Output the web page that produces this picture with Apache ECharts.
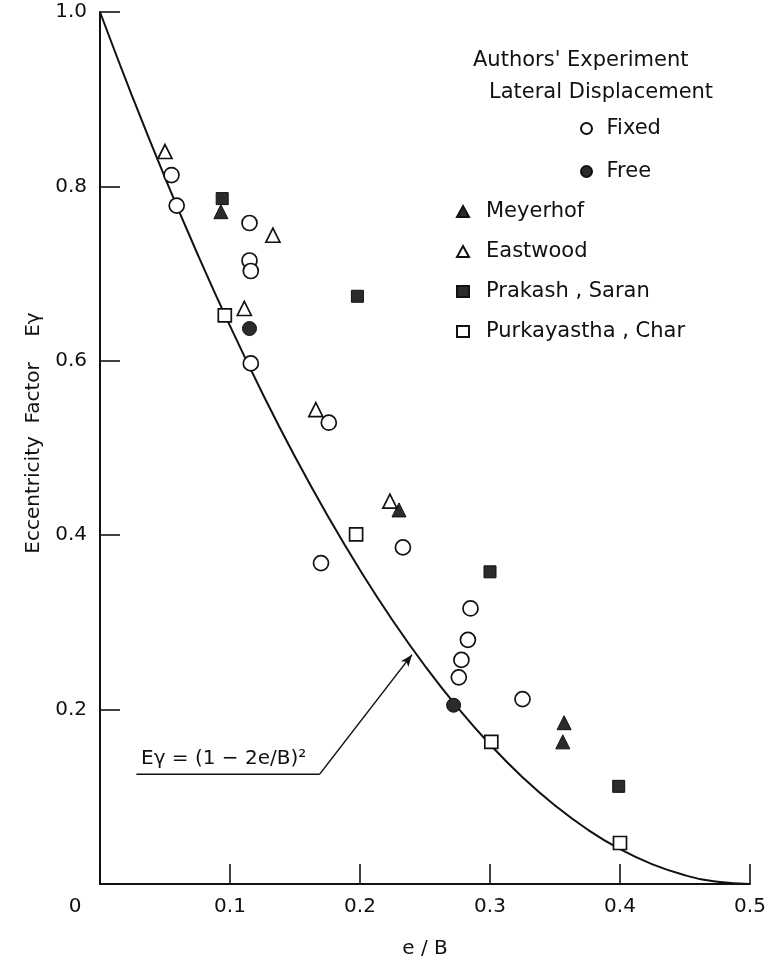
<!DOCTYPE html>
<html>
<head>
<meta charset="utf-8">
<script src="https://cdn.jsdelivr.net/npm/echarts@6/dist/echarts.min.js"></script>
<style>html,body{margin:0;padding:0;background:#fff;}#c{width:772px;height:964px;}</style>
</head>
<body>
<div id="c"></div>
<script>
// ---- data ----
const xTicks = ['0', '0.1', '0.2', '0.3', '0.4', '0.5'];
const yTicks = ['0.2', '0.4', '0.6', '0.8', '1.0'];

// theoretical curve Eγ=(1-2e/B)^2
const curveX = [0, 0.025, 0.05, 0.075, 0.1, 0.125, 0.15, 0.175, 0.2, 0.225, 0.25, 0.275, 0.3, 0.325, 0.35, 0.375, 0.4, 0.425, 0.45, 0.475, 0.5];
const curveY = [1.0, 0.9025, 0.81, 0.7225, 0.64, 0.5625, 0.49, 0.4225, 0.36, 0.3025, 0.25, 0.2025, 0.16, 0.1225, 0.09, 0.0625, 0.04, 0.0225, 0.01, 0.0025, 0];

const fixedPts = [[0.055, 0.813], [0.059, 0.778], [0.115, 0.758], [0.115, 0.715], [0.116, 0.703], [0.116, 0.597],
  [0.176, 0.529], [0.170, 0.368], [0.233, 0.386], [0.285, 0.316], [0.283, 0.280], [0.278, 0.257], [0.276, 0.237], [0.325, 0.212]];
const freePts = [[0.115, 0.637], [0.272, 0.205]];
const meyerhofPts = [[0.093, 0.771], [0.230, 0.429], [0.357, 0.185], [0.356, 0.163]];
const eastwoodPts = [[0.050, 0.840], [0.133, 0.744], [0.111, 0.660], [0.166, 0.544], [0.223, 0.439]];
const prakashPts = [[0.094, 0.786], [0.198, 0.674], [0.300, 0.358], [0.399, 0.112]];
const purkayasthaPts = [[0.096, 0.652], [0.197, 0.401], [0.301, 0.163], [0.400, 0.047]];

// formula annotation leader: underline start, underline end, arrow tip
const leaderPts = [[0.028, 0.126], [0.169, 0.126], [0.240, 0.263]];
const formulaText = 'Eγ = (1 − 2e/B)²';

const FONT = 'DejaVu Sans';
const BLACK = '#111';
const curveData = curveX.map((x, i) => [x, curveY[i]]);

const openStyle = { color: '#fff', borderColor: BLACK, borderWidth: 1.7, opacity: 1 };
const fillStyle = { color: '#2b2b2b', borderColor: BLACK, borderWidth: 1, opacity: 1 };

const chart = echarts.init(document.getElementById('c'), null, { renderer: 'canvas' });
chart.setOption({
  backgroundColor: '#fff',
  animation: false,
  textStyle: { fontFamily: FONT, color: BLACK },
  title: [
    { text: "Authors' Experiment", left: 473, top: 50, padding: 0,
      textStyle: { fontFamily: FONT, fontSize: 21, fontWeight: 'normal', color: BLACK } },
    { text: 'Lateral Displacement', left: 489, top: 82, padding: 0,
      textStyle: { fontFamily: FONT, fontSize: 21, fontWeight: 'normal', color: BLACK } }
  ],
  legend: [
    { data: ['Fixed', 'Free'], orient: 'vertical', left: 580, top: 118, padding: 0,
      itemWidth: 12, itemHeight: 11, itemGap: 22,
      textStyle: { fontFamily: FONT, fontSize: 21, color: BLACK, padding: [0, 0, 0, 9] } },
    { data: ['Meyerhof', 'Eastwood', 'Prakash , Saran', 'Purkayastha , Char'], orient: 'vertical', left: 456, top: 201, padding: 0,
      itemWidth: 12, itemHeight: 11, itemGap: 19,
      textStyle: { fontFamily: FONT, fontSize: 21, color: BLACK, padding: [0, 0, 0, 12] } }
  ],
  grid: { left: 100, right: 22, top: 12, bottom: 77, containLabel: false },
  xAxis: {
    type: 'value', min: 0, max: 0.5, interval: 0.1,
    name: 'e / B', nameLocation: 'middle', nameGap: 55,
    nameTextStyle: { fontFamily: FONT, fontSize: 20, color: BLACK },
    axisLine: { show: true, onZero: false, lineStyle: { color: BLACK, width: 2 } },
    axisTick: { show: true, inside: true, length: 20, lineStyle: { color: BLACK, width: 1.6 } },
    splitLine: { show: false },
    axisLabel: {
      margin: 13, fontFamily: FONT, fontSize: 20, color: BLACK,
      formatter: function (v) {
        const i = Math.round(v * 10);
        return i === 0 ? '{z|' + xTicks[0] + '}' : xTicks[i];
      },
      rich: { z: { fontFamily: FONT, fontSize: 20, color: BLACK, padding: [0, 50, 0, 0] } }
    }
  },
  yAxis: {
    type: 'value', min: 0, max: 1, interval: 0.2,
    name: 'Eccentricity  Factor    Eγ', nameLocation: 'middle', nameGap: 56,
    nameTextStyle: { fontFamily: FONT, fontSize: 20, color: BLACK, padding: [0, 0, 0, 30] },
    axisLine: { show: true, onZero: false, lineStyle: { color: BLACK, width: 2 } },
    axisTick: { show: true, inside: true, length: 20, lineStyle: { color: BLACK, width: 1.6 } },
    splitLine: { show: false },
    axisLabel: {
      margin: 13, fontFamily: FONT, fontSize: 20, color: BLACK,
      formatter: function (v) {
        const i = Math.round(v * 5);
        return i === 0 ? '' : yTicks[i - 1];
      }
    }
  },
  graphic: [
    { type: 'text', left: 141, top: 749, z: 10,
      style: { text: formulaText, font: '20px "DejaVu Sans"', fill: BLACK } }
  ],
  series: [
    { name: 'curve', type: 'line', data: curveData, smooth: true, showSymbol: false, symbol: 'none',
      lineStyle: { color: BLACK, width: 2 }, z: 2, silent: true },
    { name: 'leader', type: 'line', data: leaderPts.slice(0, 2), showSymbol: false, symbol: 'none',
      lineStyle: { color: BLACK, width: 1.5 }, z: 2, silent: true,
      markLine: { silent: true, symbol: ['none', 'arrow'], symbolSize: [7, 12],
        label: { show: false }, lineStyle: { color: BLACK, width: 1.5, type: 'solid' },
        data: [[{ coord: leaderPts[1] }, { coord: leaderPts[2] }]] } },
    { name: 'Fixed', type: 'scatter', data: fixedPts, symbol: 'circle', symbolSize: 15, itemStyle: openStyle, z: 5 },
    { name: 'Free', type: 'scatter', data: freePts, symbol: 'circle', symbolSize: 14, itemStyle: fillStyle, z: 5 },
    { name: 'Meyerhof', type: 'scatter', data: meyerhofPts, symbol: 'triangle', symbolSize: 14, itemStyle: fillStyle, z: 5 },
    { name: 'Eastwood', type: 'scatter', data: eastwoodPts, symbol: 'triangle', symbolSize: 14, itemStyle: openStyle, z: 5 },
    { name: 'Prakash , Saran', type: 'scatter', data: prakashPts, symbol: 'rect', symbolSize: 12, itemStyle: fillStyle, z: 5 },
    { name: 'Purkayastha , Char', type: 'scatter', data: purkayasthaPts, symbol: 'rect', symbolSize: 13, itemStyle: openStyle, z: 5 }
  ]
});
</script>
</body>
</html>
